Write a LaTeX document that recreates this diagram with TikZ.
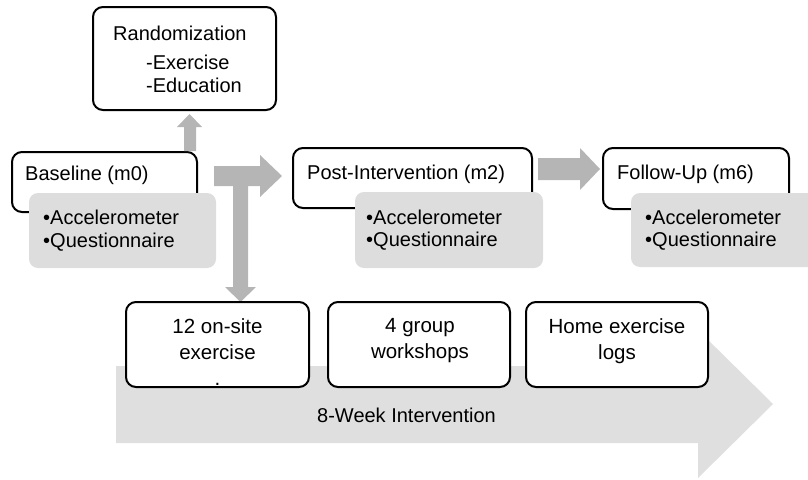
\documentclass[tikz,border=0pt]{standalone}
\usepackage{fontspec}
\setmainfont{Liberation Sans}
\definecolor{arrowgray}{RGB}{181,181,181}
\definecolor{boxgray}{RGB}{221,221,221}
\definecolor{biggray}{RGB}{223,223,223}
\begin{document}
\begin{tikzpicture}[x=1pt,y=-1pt,
  box/.style={draw=black, line width=2pt, fill=white, rounded corners=10pt, inner sep=0pt},
  graybox/.style={fill=boxgray, rounded corners=9pt, inner sep=0pt},
  txt/.style={anchor=west, inner sep=0pt, text height=14.4pt, text depth=0pt, font=\fontsize{20}{24}\selectfont},
  ctxt/.style={align=center, inner sep=0pt, font=\fontsize{20.5}{26}\selectfont},
  blockarrow/.style={fill=arrowgray, draw=none}]
\useasboundingbox (0,0) rectangle (808,479);
\clip (0,0) rectangle (808,479);

% big intervention arrow
\fill[biggray] (116,366) -- (698,366) -- (698,330) -- (773,404) -- (698,478) -- (698,443) -- (116,443) -- cycle;

% boxes top row
\node[box, minimum width=183pt, minimum height=103pt] (rand) at (184.5,58.5) {};
\node[box, minimum width=185pt, minimum height=60pt] (base) at (104.5,182) {};
\node[box, minimum width=239pt, minimum height=60pt] (post) at (412.5,178) {};
\node[box, minimum width=186pt, minimum height=61pt] (follow) at (696,178.5) {};

% up arrow base -> rand
\fill[blockarrow] (base.north -| 184,0) -- (184,127) -- (177,127) -- (189.5,114) -- (202,127) -- (196,127) -- (base.north -| 196,0) -- cycle;

% gray measurement boxes
\node[graybox, minimum width=187pt, minimum height=75pt] (basegray) at (122.5,230.5) {};
\node[graybox, minimum width=188pt, minimum height=76pt] (postgray) at (449,230) {};
\node[graybox, minimum width=187pt, minimum height=74pt] (followgray) at (724.5,230) {};

% arrow base -> post (T shape) and down to on-site exercise
\fill[blockarrow] (214,166) -- (260,166) -- (260,155) -- (282,176) -- (260,197) -- (260,186) -- (248,186)
  -- (248,287) -- (256,287) -- (240.5,302) -- (225,287) -- (233,287) -- (233,186) -- (214,186) -- cycle;

% arrow post -> follow
\fill[blockarrow] (538,158) -- (580,158) -- (580,148) -- (600,169) -- (580,190) -- (580,180) -- (538,180) -- cycle;

% bottom boxes
\node[box, minimum width=183pt, minimum height=85pt] (onsite) at (217.5,344.5) {};
\node[box, minimum width=182pt, minimum height=85pt] (workshops) at (419,344.5) {};
\node[box, minimum width=182pt, minimum height=85pt] (homelogs) at (617,344.5) {};

% texts
\node[txt] (randt) at (113,33) {Randomization};
\node[txt] (randex) at (146,62) {-Exercise};
\node[txt] (randed) at (146,85) {-Education};
\node[txt] (baset) at (25,173) {Baseline (m0)};
\node[txt] (basea) at (43,217) {•Accelerometer};
\node[txt] (baseq) at (43,240) {•Questionnaire};
\node[txt] (postt) at (307,172) {Post-Intervention (m2)};
\node[txt] (posta) at (366,217) {•Accelerometer};
\node[txt] (postq) at (366,239) {•Questionnaire};
\node[txt] (followt) at (617,172) {Follow-Up (m6)};
\node[txt] (followa) at (645,217) {•Accelerometer};
\node[txt] (followq) at (645,239) {•Questionnaire};
\node[ctxt, anchor=north] (onsitet) at (217.5,318) {12 on-site\\exercise\\.};
\node[ctxt, anchor=north] (workshopst) at (420,318) {4 group\\workshops};
\node[ctxt, anchor=north] (homelogst) at (617,318) {Home exercise\\logs};
\node[txt] (bigt) at (317,415) {8-Week Intervention};
\end{tikzpicture}
\end{document}
